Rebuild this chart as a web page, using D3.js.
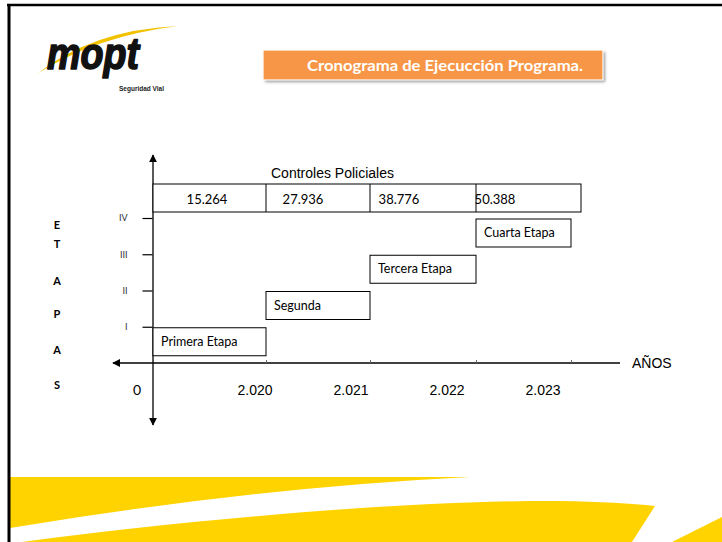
<!DOCTYPE html>
<html>
<head>
<meta charset="utf-8">
<script src="https://cdn.jsdelivr.net/npm/d3@7"></script>
<style>
  body { margin: 0; background: #fff; }
  svg { display: block; }
</style>
</head>
<body>
<div id="chart"></div>
<script>
// chart data
let stages = ["Primera Etapa", "Segunda", "Tercera Etapa", "Cuarta Etapa"];
let levels = ["I", "II", "III", "IV"];
let years = ["2.020", "2.021", "2.022", "2.023"];
let controls = ["15.264", "27.936", "38.776", "50.388"];
let axisLetters = ["E", "T", "A", "P", "A", "S"];

let width = 722, height = 542;
let calibri = "Lato, 'Open Sans', sans-serif";
let arial = "'Liberation Sans', Arial, sans-serif";

let svg = d3.select("#chart").append("svg")
  .attr("width", width)
  .attr("height", height);

let defs = svg.append("defs");
defs.append("filter").attr("id", "shadow")
  .append("feGaussianBlur").attr("stdDeviation", 1.5);
defs.append("marker").attr("id", "arrow")
  .attr("viewBox", "0 0 10 10").attr("refX", 9).attr("refY", 5)
  .attr("markerWidth", 8).attr("markerHeight", 8)
  .attr("markerUnits", "userSpaceOnUse")
  .attr("orient", "auto-start-reverse")
  .append("path").attr("d", "M0,0L10,5L0,10Z").attr("fill", "#000");

// yellow decoration at the bottom
let yellow = "#FFD300";
svg.append("path").attr("fill", yellow)
  .attr("d", "M10,477L470,477Q250,488 10,528Z");
svg.append("path").attr("fill", yellow)
  .attr("d", "M22,542C200,518 420,500 560,501Q620,502 655,506L632,542Z");
svg.append("path").attr("fill", yellow)
  .attr("d", "M672,542L722,517L722,542Z");

// frame
svg.append("line").attr("x1", 7).attr("x2", width).attr("y1", 5).attr("y2", 5)
  .attr("stroke", "#000").attr("stroke-width", 2.5);
svg.append("line").attr("x1", 9).attr("x2", 9).attr("y1", 4).attr("y2", height)
  .attr("stroke", "#000").attr("stroke-width", 3);

// logo
let logo = svg.append("g");
logo.append("path").attr("fill", "#F2C200")
  .attr("d", "M37,74Q92,30 178,26Q98,36 40,72Z");
logo.append("text")
  .attr("x", 47).attr("y", 69)
  .attr("font-family", arial).attr("font-weight", "bold").attr("font-style", "italic")
  .attr("font-size", 44).attr("textLength", 92).attr("lengthAdjust", "spacingAndGlyphs")
  .attr("fill", "#111").attr("stroke", "#111").attr("stroke-width", 1.6)
  .attr("stroke-linejoin", "round")
  .text("mopt");
logo.append("text")
  .attr("x", 119).attr("y", 91)
  .attr("font-family", arial).attr("font-weight", "bold")
  .attr("font-size", 6.5).attr("fill", "#222").text("Seguridad Vial");

// title box
svg.append("rect").attr("x", 265).attr("y", 52).attr("width", 340).attr("height", 30)
  .attr("fill", "#999").attr("filter", "url(#shadow)");
svg.append("rect").attr("x", 263).attr("y", 50).attr("width", 340).attr("height", 30)
  .attr("fill", "#F79646").attr("stroke", "#fff").attr("stroke-width", 1.2);
svg.append("text")
  .attr("x", 307).attr("y", 71)
  .attr("font-family", calibri).attr("font-weight", "bold").attr("font-size", 15)
  .attr("textLength", 276).attr("lengthAdjust", "spacingAndGlyphs")
  .attr("fill", "#fff").text("Cronograma de Ejecucción Programa.");

// scales
let x = d3.scaleLinear().domain([0, 1, 2, 3, 4]).range([153, 266, 370, 476, 571]);
let xLabel = d3.scaleLinear().domain([0, 4]).range([159, 543]);
let y = d3.scaleLinear().domain([0, 4]).range([363, 218]);

let boxH = 28;

// axes lines with arrows
svg.append("line")
  .attr("x1", x(0)).attr("x2", x(0))
  .attr("y1", y(0) + 62).attr("y2", 155)
  .attr("stroke", "#000").attr("stroke-width", 1.3)
  .attr("marker-start", "url(#arrow)").attr("marker-end", "url(#arrow)");
svg.append("line")
  .attr("x1", 620).attr("x2", 113)
  .attr("y1", y(0)).attr("y2", y(0))
  .attr("stroke", "#000").attr("stroke-width", 1.3)
  .attr("marker-end", "url(#arrow)");

// y axis ticks (etapas)
let yAxis = d3.axisLeft(y)
  .tickValues([1, 2, 3, 4])
  .tickSize(10)
  .tickPadding(15)
  .tickFormat(function(d) { return levels[d - 1]; });
let gy = svg.append("g")
  .attr("transform", "translate(" + (x(0) - 0.5) + ",0)")
  .call(yAxis);
gy.select(".domain").remove();
gy.selectAll("line").attr("stroke", "#000").attr("stroke-width", 1.2);
gy.selectAll("text").attr("font-family", calibri).attr("font-size", 9).attr("fill", "#333");

// x axis ticks (years)
let xAxis = d3.axisTop(x)
  .tickValues([1, 2, 3, 4])
  .tickSize(3)
  .tickFormat("");
let gx = svg.append("g")
  .attr("transform", "translate(0," + y(0) + ")")
  .call(xAxis);
gx.select(".domain").remove();
gx.selectAll("line").attr("stroke", "#666");

svg.selectAll(".year")
  .data(years)
  .enter()
  .append("text")
  .attr("class", "year")
  .attr("x", function(d, i) { return xLabel(i + 1); })
  .attr("y", y(0) + 32)
  .attr("text-anchor", "middle")
  .attr("font-family", arial).attr("font-size", 14)
  .text(function(d) { return d; });

svg.append("text")
  .attr("x", x(0) - 16).attr("y", y(0) + 32)
  .attr("text-anchor", "middle")
  .attr("font-family", calibri).attr("font-size", 14)
  .text("0");

svg.append("text")
  .attr("x", 632).attr("y", y(0) + 5)
  .attr("font-family", arial).attr("font-size", 14)
  .text("AÑOS");

// vertical ETAPAS label
let etapas = svg.append("text")
  .attr("x", 57).attr("y", 229)
  .attr("text-anchor", "middle")
  .attr("font-family", calibri).attr("font-weight", "bold").attr("font-size", 11);
let letterGaps = [0, 19, 37, 33, 36, 35];
etapas.selectAll("tspan")
  .data(axisLetters)
  .enter()
  .append("tspan")
  .attr("x", 57)
  .attr("dy", function(d, i) { return letterGaps[i]; })
  .text(function(d) { return d; });

// stage boxes
let stageG = svg.selectAll(".stage")
  .data(stages)
  .enter()
  .append("g")
  .attr("class", "stage");
stageG.append("rect")
  .attr("x", function(d, i) { return x(i); })
  .attr("y", function(d, i) { return y(i + 1) + 1; })
  .attr("width", function(d, i) { return x(i + 1) - x(i); })
  .attr("height", boxH)
  .attr("fill", "#fff").attr("stroke", "#000").attr("stroke-width", 1);
stageG.append("text")
  .attr("x", function(d, i) { return x(i) + 8; })
  .attr("y", function(d, i) { return y(i + 1) + 19; })
  .attr("font-family", calibri).attr("font-size", 12.5)
  .text(function(d) { return d; });

// controles policiales row
let ctrlTop = 184;
svg.append("text")
  .attr("x", x(1) + 5).attr("y", ctrlTop - 6)
  .attr("font-family", arial).attr("font-size", 14)
  .text("Controles Policiales");
svg.append("rect")
  .attr("x", x(0)).attr("y", ctrlTop)
  .attr("width", x(4) + 10 - x(0)).attr("height", boxH)
  .attr("fill", "#fff").attr("stroke", "#000").attr("stroke-width", 1);
svg.selectAll(".divider")
  .data([1, 2, 3])
  .enter()
  .append("line")
  .attr("x1", function(d) { return x(d); }).attr("x2", function(d) { return x(d); })
  .attr("y1", ctrlTop).attr("y2", ctrlTop + boxH)
  .attr("stroke", "#000");
svg.selectAll(".ctrl")
  .data(controls)
  .enter()
  .append("text")
  .attr("class", "ctrl")
  .attr("x", function(d, i) { return xLabel(i + 0.5); })
  .attr("y", ctrlTop + 20)
  .attr("text-anchor", "middle")
  .attr("font-family", calibri).attr("font-size", 13)
  .text(function(d) { return d; });
</script>
</body>
</html>
